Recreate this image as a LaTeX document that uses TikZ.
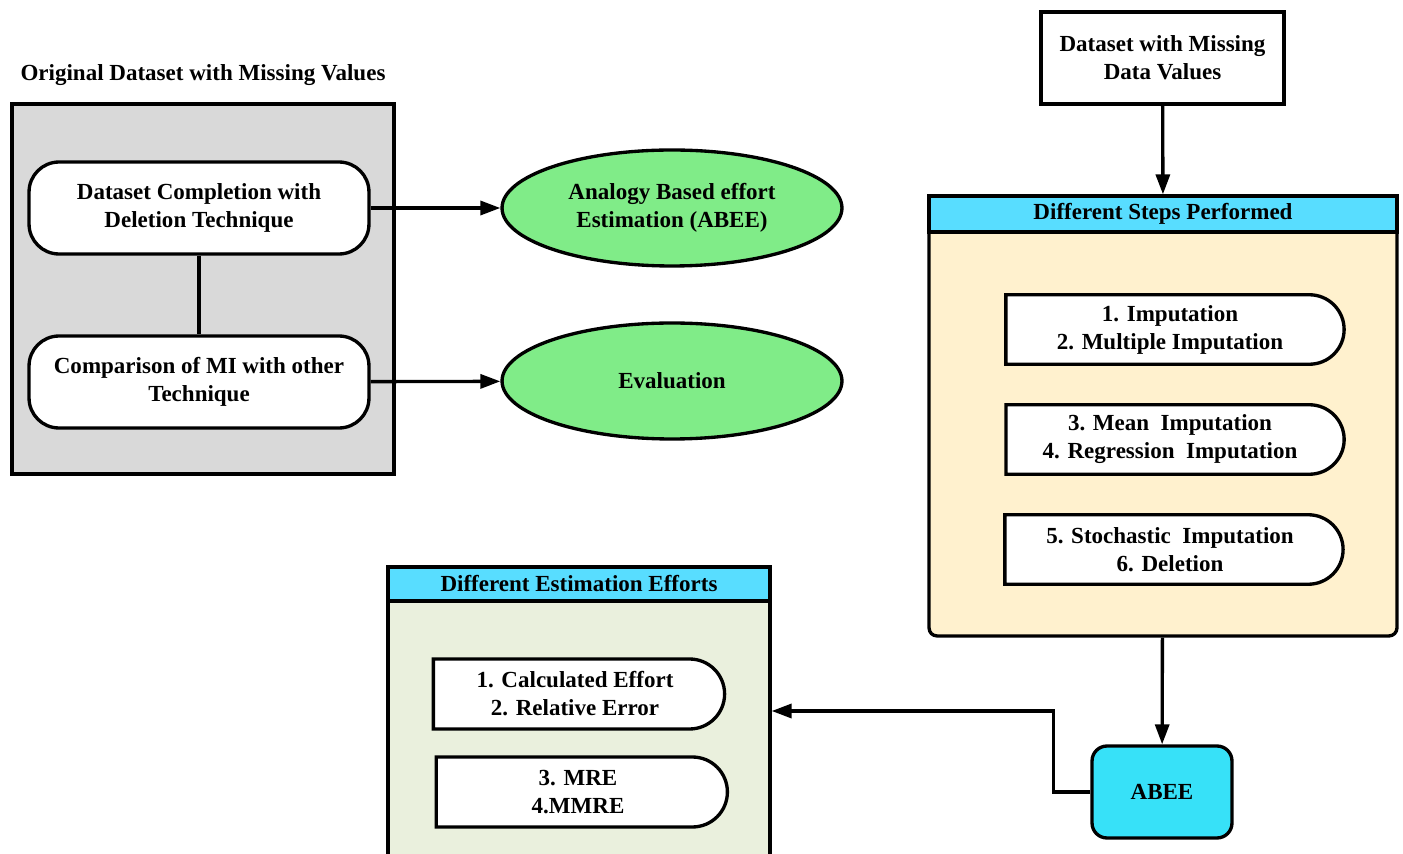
\documentclass[tikz,border=0pt]{standalone}
\usepackage{fontspec}
\setmainfont{Liberation Serif}
\usetikzlibrary{arrows.meta,positioning,shapes.geometric,shapes.misc}
\definecolor{panelgray}{RGB}{217,217,217}
\definecolor{mint}{RGB}{128,236,136}
\definecolor{sky}{RGB}{88,221,255}
\definecolor{aqua}{RGB}{55,225,248}
\definecolor{cream}{RGB}{255,241,206}
\definecolor{sage}{RGB}{234,240,221}
\newcommand{\txt}{\fontsize{13.1}{15.9}\selectfont\bfseries}
\tikzset{
  >={Triangle[length=4mm,width=2.8mm]},
  flow/.style={->,line width=1.9pt},
  rbox/.style={draw,line width=1.9pt,fill=white,rounded corners=0.6cm,
    minimum width=6.8cm,minimum height=1.84cm,align=center,font=\txt},
  oval/.style={ellipse,draw,line width=1.9pt,fill=mint,minimum width=6.8cm,
    minimum height=2.32cm,align=center,font=\txt},
  item/.style={rounded rectangle,rounded rectangle west arc=none,draw,line width=1.9pt,
    fill=white,minimum width=#1,minimum height=1.39cm,align=center,font=\txt},
  item/.default=7cm,
  head/.style={draw,line width=1.9pt,fill=sky,minimum height=#1,font=\txt,inner sep=0pt,
    minimum width=0pt},
  head/.default=0.72cm,
  panel/.style={draw,line width=1.9pt,fill=#1,inner sep=0pt},
}

\begin{document}
\begin{tikzpicture}[x=0.02cm,y=-0.02cm]
  \useasboundingbox (0,0) rectangle (1403,854);
  % left part
  \node[font=\txt] (orig) at (203,75) {Original Dataset with Missing Values};
  \node[panel=panelgray,minimum width=7.64cm,minimum height=7.4cm] (left) at (203,289) {};
  \node[rbox] (compl) at (199,208) {Dataset Completion with\\Deletion Technique};
  \node[rbox] (comp) at (199,382) {Comparison of MI with other\\Technique};
  \node[oval] (abeeov) at (672,208) {Analogy Based effort\\Estimation (ABEE)};
  \node[oval] (eval) at (672,381) {Evaluation};
  \draw[line width=1.9pt] (compl) -- (comp);
  \draw[flow] (compl) -- (abeeov);
  \draw[flow] (comp) -- (eval);

  % right part
  \node[draw,line width=1.9pt,fill=white,minimum width=4.86cm,minimum height=1.84cm,
    align=center,font=\txt] (data) at (1162.5,58) {Dataset with Missing\\Data Values};
  \node[panel=cream,rounded corners=0.16cm,minimum width=9.36cm,minimum height=8.8cm] (steps) at (1163,416) {};
  \node[head,minimum width=9.36cm] (stepshd) at (1163,214) {Different Steps Performed};
  \node[item] (s1) at (1170,329.5) {1. Imputation\\2. Multiple Imputation};
  \node[item] (s2) at (1170,439.5) {3. Mean\ \ Imputation\\4. Regression\ \ Imputation};
  \node[item] (s3) at (1170,549.5) {5. Stochastic\ \ Imputation\\6. Deletion};
  \draw[flow] (data) -- (stepshd);
  \node[draw,line width=1.9pt,fill=aqua,rounded corners=0.3cm,minimum width=2.8cm,
    minimum height=1.84cm,font=\txt] (abee) at (1162,792) {ABEE};
  \draw[flow] (steps) -- (abee);

  % bottom part
  \node[panel=sage,minimum width=7.64cm,minimum height=6.26cm] (eff) at (579,723.5) {};
  \node[head=0.68cm,minimum width=7.64cm] (effhd) at (579,584) {Different Estimation Efforts};
  \node[item=6.06cm,minimum height=1.4cm] (e1) at (575,694) {1. Calculated Effort\\2. Relative Error};
  \node[item=6.06cm,minimum height=1.4cm] (e2) at (578,792) {3. MRE\\4.MMRE};
  \draw[flow] (abee.west) -- ++(-37,0) |- ([yshift=0.25cm]eff.east);
\end{tikzpicture}
\end{document}
